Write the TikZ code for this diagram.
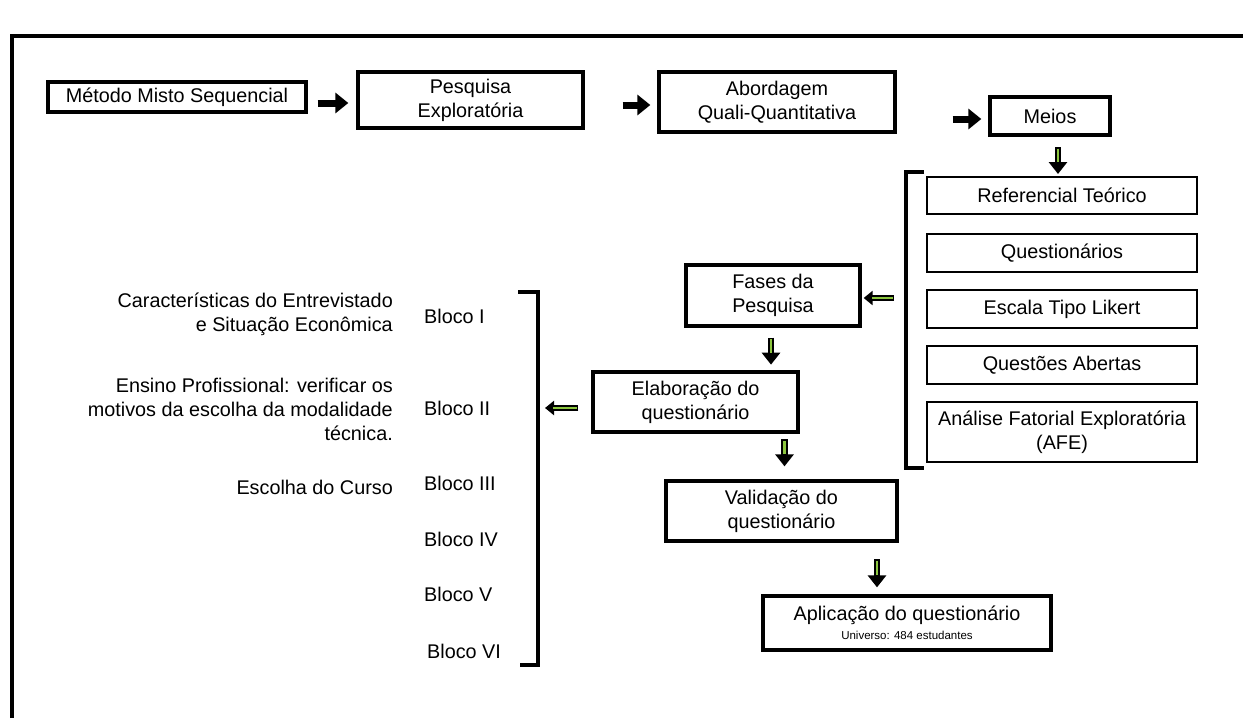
\documentclass[tikz,border=0pt]{standalone}
\usepackage{fontspec}
\setmainfont{Liberation Sans}
\usetikzlibrary{arrows.meta,shadows,calc}
\definecolor{lgreen}{HTML}{8CC63F}
\begin{document}
\begin{tikzpicture}[x=1pt,y=-1pt,
  every node/.style={font=\fontsize{19.8}{24}\selectfont, inner sep=2pt},
  thickbox/.style={draw, line width=3.3pt, fill=white, align=center,
     drop shadow={shadow xshift=1.5pt, shadow yshift=-1.5pt, opacity=0.25}},
  thinbox/.style={draw, line width=1.2pt, fill=white, align=center, minimum width=270pt},
  blk/.style={line width=7pt, -{Triangle[length=13pt,width=20pt]}},
  gout/.style={line width=6.5pt, -{Triangle[length=12pt,width=18pt]}},
  gin/.style={line width=2.5pt, lgreen, shorten >=12pt, shorten <=1.5pt},
  bracket/.style={line width=4pt},
  lbl/.style={anchor=west},
  desc/.style={anchor=east, align=right}
]
\useasboundingbox (0,0) rectangle (1243,718);
% frame
\draw[line width=4pt] (12,718) -- (12,36) -- (1245,36);

% top row
\node[thickbox, minimum width=258pt, minimum height=30pt] (m1) at (177,97) {Método Misto Sequencial};
\node[thickbox, minimum width=225pt, minimum height=56pt] (m2) at (470.5,100) {Pesquisa\\Exploratória};
\node[thickbox, minimum width=236pt, minimum height=60pt] (m3) at (777,102) {Abordagem\\Quali-Quantitativa};
\node[thickbox, minimum width=120pt, minimum height=38pt] (m4) at (1050,116) {Meios};

\draw[blk, shorten <=10pt, shorten >=8pt] ([yshift=-3pt]m2.west -| m1.east) -- ([yshift=-3pt]m2.west);
\draw[blk, shorten <=38pt, shorten >=7pt] ([yshift=-3pt]m3.west -| m2.east) -- ([yshift=-3pt]m3.west);
\draw[blk, shorten <=56pt, shorten >=7pt] ([yshift=-3pt]m4.west -| m3.east) -- ([yshift=-3pt]m4.west);

% right list
\node[thinbox, minimum height=37pt] (r1) at (1062,195.5) {Referencial Teórico};
\node[thinbox, minimum height=38pt] (r2) at (1062,253) {Questionários};
\node[thinbox, minimum height=38pt] (r3) at (1062,309) {Escala Tipo Likert};
\node[thinbox, minimum height=38pt] (r4) at (1062,365) {Questões Abertas};
\node[thinbox, minimum height=60pt] (r5) at (1062,432) {Análise Fatorial Exploratória\\(AFE)};
\draw[bracket] (924,172) -- (906,172) -- (906,468) -- (924,468);
\coordinate (brR) at (906,298);

\coordinate (a1s) at (1058,147);
\coordinate (a1e) at (1058,174);
\draw[gout] (a1s) -- (a1e);
\draw[gin] (a1s) -- (a1e);

% middle chain
\node[thickbox, minimum width=174pt, minimum height=61pt] (fases) at (773,295.5) {Fases da\\Pesquisa};
\node[thickbox, minimum width=205pt, minimum height=60pt] (elab) at (695.5,402) {Elaboração do\\questionário};
\node[thickbox, minimum width=231pt, minimum height=60pt] (val) at (781.5,511) {Validação do\\questionário};
\node[thickbox, minimum width=288pt, minimum height=54pt, inner sep=1pt] (apl) at (907,623)
  {Aplicação do questionário\\[-5pt]{\fontsize{11.5}{13}\selectfont Universo: 484 estudantes}};

% left arrow bracket -> fases
\draw[gout, line width=5.5pt, -{Triangle[length=9pt,width=14pt]}, shorten <=12pt, shorten >=2pt] (brR) -- (brR -| fases.east);
\draw[gin, line width=2pt, shorten <=13.5pt, shorten >=10pt] (brR) -- (brR -| fases.east);

% down arrows
\coordinate (d1s) at ($(fases.south)+(-2,10)$);
\coordinate (d1e) at ($(fases.south)+(-2,37)$);
\draw[gout] (d1s) -- (d1e); \draw[gin] (d1s) -- (d1e);
\coordinate (d2s) at ($(val.north)+(3,-40)$);
\coordinate (d2e) at ($(val.north)+(3,-13)$);
\draw[gout] (d2s) -- (d2e); \draw[gin] (d2s) -- (d2e);
\coordinate (d3s) at ($(apl.north)+(-30,-35)$);
\coordinate (d3e) at ($(apl.north)+(-30,-7)$);
\draw[gout] (d3s) -- (d3e); \draw[gin] (d3s) -- (d3e);

% left bracket and blocks
\draw[bracket] (518,292) -- (538,292) -- (538,665) -- (520,665);
\coordinate (brL) at (538,408);
\draw[gout, line width=5.5pt, -{Triangle[length=9pt,width=14pt]}, shorten <=13pt, shorten >=7pt] (brL -| elab.west) -- (brL);
\draw[gin, line width=2pt, shorten <=14.5pt, shorten >=15pt] (brL -| elab.west) -- (brL);

\node[lbl] (b1) at (422,316) {Bloco I};
\node[lbl] (b2) at (422,408) {Bloco II};
\node[lbl] (b3) at (422,483) {Bloco III};
\node[lbl] (b4) at (422,539) {Bloco IV};
\node[lbl] (b5) at (422,594) {Bloco V};
\node[lbl] (b6) at (425,651) {Bloco VI};

\node[desc] (t1) at (395,314) {Características do Entrevistado\\e Situação Econômica};
\node[desc] (t2) at (395,409) {Ensino Profissional: verificar os\\motivos da escolha da modalidade\\técnica.};
\node[desc] (t3) at (395,487) {Escolha do Curso};
\end{tikzpicture}
\end{document}
